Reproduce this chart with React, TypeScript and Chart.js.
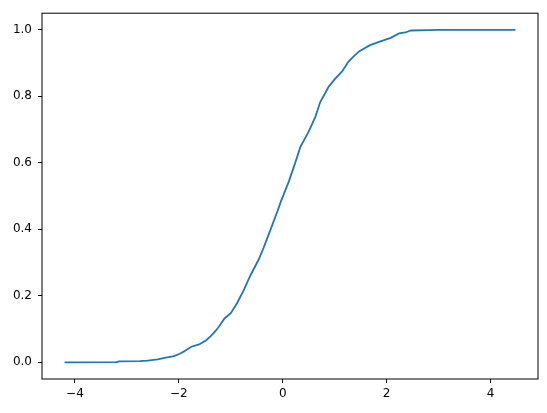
import { useEffect, useRef } from 'react'
import { Chart, registerables } from 'chart.js'

Chart.register(...registerables)

const xValues = [
  -4.2, -3.2, -3.15, -2.75, -2.6, -2.41, -2.25, -2.09, -1.98, -1.9,
  -1.76, -1.61, -1.48, -1.39, -1.3, -1.23, -1.12, -1.0, -0.88, -0.75,
  -0.62, -0.46, -0.365, -0.24, -0.1, -0.04, 0.12, 0.24, 0.34, 0.5,
  0.63, 0.72, 0.88, 1.01, 1.14, 1.26, 1.35, 1.47, 1.68,
  1.91, 2.08, 2.24, 2.36, 2.47, 2.8, 3.0, 4.48,
]
const yValues = [
  0.0, 0.001, 0.003, 0.004, 0.005, 0.009, 0.014, 0.019, 0.026, 0.033,
  0.047, 0.054, 0.066, 0.078, 0.093, 0.107, 0.132, 0.148, 0.178, 0.217,
  0.262, 0.31, 0.346, 0.397, 0.455, 0.482, 0.545, 0.6, 0.648, 0.694,
  0.739, 0.782, 0.828, 0.853, 0.874, 0.903, 0.918, 0.935, 0.954,
  0.967, 0.976, 0.989, 0.992, 0.998, 0.999, 1.0, 1.0,
]
const xTicks = [-4, -2, 0, 2, 4]
const yTicks = [0, 0.2, 0.4, 0.6, 0.8, 1.0]

const FONT = { family: "'DejaVu Sans', sans-serif", size: 12 }

const frame = {
  id: 'frame',
  afterDatasetsDraw(chart: Chart) {
    const { ctx, chartArea: a } = chart
    ctx.save()
    ctx.strokeStyle = '#000'
    ctx.lineWidth = 1
    ctx.strokeRect(a.left, a.top, a.right - a.left, a.bottom - a.top)
    ctx.restore()
  },
}

export default function App() {
  const canvasRef = useRef<HTMLCanvasElement>(null)

  useEffect(() => {
    const canvas = canvasRef.current
    if (!canvas) return
    const chart = new Chart(canvas, {
      type: 'line',
      data: {
        datasets: [{
          data: xValues.map((x, i) => ({ x, y: yValues[i] })),
          borderColor: '#1f77b4',
          borderWidth: 1.8,
          pointRadius: 0,
          tension: 0,
          fill: false,
        }],
      },
      options: {
        animation: false,
        responsive: false,
        maintainAspectRatio: false,
        layout: { padding: { left: 0, top: 10, right: 9, bottom: 0 } },
        plugins: { legend: { display: false }, tooltip: { enabled: false } },
        scales: {
          x: {
            type: 'linear',
            min: -4.634,
            max: 4.914,
            afterBuildTicks: (s: any) => { s.ticks = xTicks.map(v => ({ value: v })) },
            afterFit: (s: any) => { s.height = 34 },
            grid: { display: true, drawOnChartArea: false, tickLength: 4, tickColor: '#000' },
            border: { display: false },
            ticks: {
              color: '#000',
              font: FONT,
              padding: 4,
              maxRotation: 0,
              callback: (v: any) => String(v).replace('-', '\u2212'),
            },
          },
          y: {
            type: 'linear',
            min: -0.05,
            max: 1.05,
            afterBuildTicks: (s: any) => { s.ticks = yTicks.map(v => ({ value: v })) },
            afterFit: (s: any) => { s.width = 42 },
            grid: { display: true, drawOnChartArea: false, tickLength: 4, tickColor: '#000' },
            border: { display: false },
            ticks: {
              color: '#000',
              font: FONT,
              padding: 6,
              callback: (v: any) => Number(v).toFixed(1),
            },
          },
        },
      },
      plugins: [frame],
    })
    return () => chart.destroy()
  }, [])

  return (
    <div style={{ position: 'fixed', left: 0, top: 0, width: 547, height: 413, background: '#fff' }}>
      <canvas ref={canvasRef} width={547} height={413} style={{ width: 547, height: 413 }} />
    </div>
  )
}
